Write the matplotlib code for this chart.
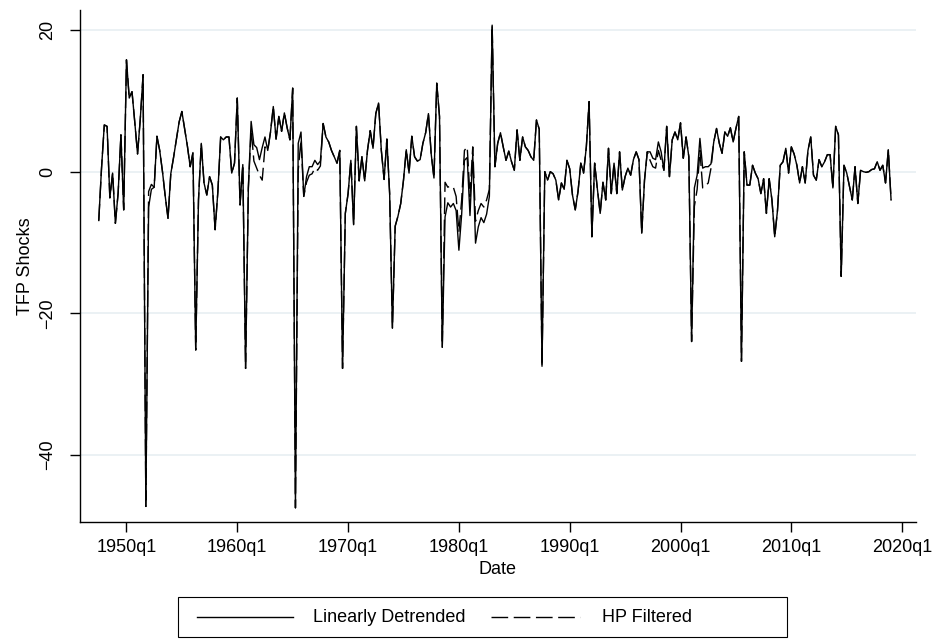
import matplotlib
matplotlib.use('Agg')
import matplotlib.pyplot as plt
from matplotlib.lines import Line2D
from matplotlib.patches import Rectangle
import pandas as pd

start_quarter = '1947Q3'

linearly_detrended = [
    -6.9, 0.5, 6.6, 6.4, -3.7, -0.2, -7.3, -3.0, 5.2, -5.4,
    15.8, 10.4, 11.3, 7.0, 2.5, 7.5, 13.7, -47.3, -5.0, -2.5,
    -2.2, 5.0, 3.0, 0.0, -3.5, -6.6, -0.3, 2.0, 4.5, 7.0,
    8.5, 6.0, 3.6, 0.7, 2.7, -25.2, -4.0, 4.0, -1.6, -3.3,
    -0.7, -1.9, -8.2, -2.8, 4.9, 4.5, 4.9, 4.9, -0.2, 1.2,
    10.4, -4.7, 1.0, -27.8, -2.3, 7.1, 3.8, 3.4, 1.7, 3.4,
    4.9, 3.0, 5.6, 9.2, 4.6, 7.8, 5.7, 8.3, 6.2, 4.5,
    11.8, -47.5, 4.0, 5.6, -3.5, -0.7, 0.7, 0.7, 1.6, 1.0,
    1.5, 6.8, 4.9, 4.2, 3.0, 2.1, 1.2, 3.0, -27.8, -5.9,
    -3.1, 1.6, -7.5, 6.4, -1.3, 2.1, -1.3, 3.0, 5.8, 3.3,
    8.2, 9.7, 3.0, -1.1, 4.6, -3.1, -22.1, -7.7, -6.3, -4.5,
    -1.2, 3.1, -0.2, 5.0, 2.1, 1.5, 1.7, 4.0, 5.5, 8.2,
    2.5, -0.9, 12.5, 7.8, -24.8, -6.4, -4.4, -5.0, -4.5, -5.5,
    -11.1, -6.0, 1.6, 2.0, -6.2, 2.5, -10.1, -7.8, -6.5, -7.2,
    -6.0, -3.5, 20.7, 0.7, 4.0, 5.5, 3.5, 1.6, 2.9, 1.4,
    0.2, 5.9, 1.6, 4.9, 3.5, 3.0, 2.1, 1.6, 7.3, 6.0,
    -27.5, 0.0, -1.2, 0.0, -0.3, -1.2, -4.0, -1.6, -2.5, 1.6,
    0.4, -3.3, -5.4, -2.8, 1.2, -0.2, 3.5, 9.9, -9.2, 1.2,
    -2.5, -5.9, -1.5, -4.0, 3.3, -3.1, 1.2, -3.1, 2.8, -2.6,
    -0.7, 0.5, -0.5, 1.7, 2.8, 1.7, -8.7, -1.2, 2.8, 2.8,
    1.9, 1.7, 4.2, 2.8, 0.2, 6.4, -0.7, 4.5, 5.6, 4.5,
    6.9, 1.9, 4.9, 2.1, -24.0, -2.3, -0.5, 4.7, 0.5, 0.7,
    0.7, 1.1, 4.2, 6.1, 4.0, 2.6, 5.6, 5.0, 6.2, 4.2,
    6.1, 7.8, -26.8, 2.8, -1.9, -1.9, 0.9, -0.2, -1.0, -3.1,
    -1.0, -5.9, -1.0, -4.0, -9.2, -5.5, 0.9, 1.4, 3.3, -0.2,
    3.5, 2.5, 0.9, -1.6, 0.7, -1.6, 3.0, 4.9, -0.5, -1.2,
    1.7, 0.7, 1.4, 2.4, 2.4, -2.3, 6.4, 5.2, -14.8, 0.9,
    -0.2, -2.1, -4.0, 0.7, -4.5, 0.2, 0.0, -0.1, 0.0, 0.3,
    0.4, 1.4, 0.2, 0.9, -1.6, 3.1, -4.0,
]

hp_filtered = [
    -6.9, 0.5, 6.6, 6.4, -3.7, -0.2, -7.3, -3.0, 5.2, -5.4,
    15.8, 10.4, 11.3, 7.0, 2.5, 7.5, 13.7, -47.3, -2.8, -1.8,
    -2.2, 5.0, 3.0, 0.0, -3.5, -6.6, -0.3, 2.0, 4.5, 7.0,
    8.5, 6.0, 3.6, 0.7, 2.7, -25.2, -4.0, 4.0, -1.6, -3.3,
    -0.7, -1.9, -8.2, -2.8, 4.9, 4.5, 4.9, 4.9, -0.2, 1.2,
    10.4, -4.7, 1.0, -27.8, -2.3, 6.0, 1.5, 0.5, -0.5, -1.2,
    3.5, 3.0, 5.6, 9.2, 4.6, 7.8, 5.7, 8.3, 6.2, 4.5,
    11.8, -47.5, 0.2, 4.5, -3.5, -1.5, -0.5, -0.3, 0.5, 0.2,
    0.8, 6.8, 4.9, 4.2, 3.0, 2.1, 1.2, 3.0, -27.8, -5.9,
    -3.1, 1.6, -7.5, 6.4, -1.3, 2.1, -1.3, 3.0, 5.8, 3.3,
    8.2, 9.7, 3.0, -1.1, 4.6, -3.1, -22.1, -7.7, -6.3, -4.5,
    -1.2, 3.1, -0.2, 5.0, 2.1, 1.5, 1.7, 4.0, 5.5, 8.2,
    2.5, -0.9, 12.5, 7.8, -24.8, -1.5, -2.2, -2.0, -2.2, -3.5,
    -8.5, -4.0, 3.0, 3.5, -3.5, 3.5, -7.0, -5.5, -4.5, -5.0,
    -4.0, -2.5, 20.7, 0.7, 4.0, 5.5, 3.5, 1.6, 2.9, 1.4,
    0.2, 5.9, 1.6, 4.9, 3.5, 3.0, 2.1, 1.6, 7.3, 6.0,
    -27.5, 0.0, -1.2, 0.0, -0.3, -1.2, -4.0, -1.6, -2.5, 1.6,
    0.4, -3.3, -5.4, -2.8, 1.2, -0.2, 3.5, 9.9, -9.2, 1.2,
    -2.5, -5.9, -1.5, -4.0, 3.3, -3.1, 1.2, -3.1, 2.8, -2.6,
    -0.7, 0.5, -0.5, 1.7, 2.8, 1.7, -8.7, -1.2, 2.8, 1.6,
    0.7, 0.5, 3.0, 1.6, 0.2, 6.4, -0.7, 4.5, 5.6, 4.5,
    6.9, 1.9, 4.9, 2.1, -24.0, -4.9, -2.5, 3.0, -2.3, -2.0,
    -1.6, 0.5, 4.2, 6.1, 4.0, 2.6, 5.6, 5.0, 6.2, 4.2,
    6.1, 7.8, -26.8, 2.8, -1.9, -1.9, 0.9, -0.2, -1.0, -3.1,
    -1.0, -5.9, -1.0, -4.0, -9.2, -5.5, 0.9, 1.4, 3.3, -0.2,
    3.5, 2.5, 0.9, -1.6, 0.7, -1.6, 3.0, 4.9, -0.5, -1.2,
    1.7, 0.7, 1.4, 2.4, 2.4, -2.3, 6.4, 5.2, -14.8, 0.9,
    -0.2, -2.1, -4.0, 0.7, -4.5, 0.2, 0.0, -0.1, 0.0, 0.3,
    0.4, 1.4, 0.2, 0.9, -1.6, 3.1, -4.0,
]

x_tick_years = [1950, 1960, 1970, 1980, 1990, 2000, 2010, 2020]
x_tick_labels = ['1950q1', '1960q1', '1970q1', '1980q1', '1990q1', '2000q1', '2010q1', '2020q1']
y_ticks = [-40, -20, 0, 20]
y_tick_labels = ['\u221240', '\u221220', '0', '20']

series_labels = ['Linearly Detrended', 'HP Filtered']

quarters = pd.period_range(start_quarter, periods=len(linearly_detrended), freq='Q')
x = quarters.year + (quarters.quarter - 1) / 4.0

plt.rcParams['font.family'] = ['Liberation Sans', 'DejaVu Sans']
plt.rcParams['lines.scale_dashes'] = False

W, H = 939, 643
fig = plt.figure(figsize=(W / 100, H / 100), dpi=100)
left, right, top, bottom = 79.7, 916, 10, 522
ax = fig.add_axes([left / W, 1 - bottom / H, (right - left) / W, (bottom - top) / H])

solid_style = dict(color='black', lw=1.0)
dash_style = dict(color='black', lw=1.0, dashes=(12, 4))

ax.plot(x, linearly_detrended, label=series_labels[0], **solid_style)
ax.plot(x, hp_filtered, label=series_labels[1], **dash_style)

ax.set_ylim(-49.5, 22.84)
ax.set_xlim(1945.78, 2021.25)

ax.set_xticks(x_tick_years)
ax.set_xticklabels(x_tick_labels)
ax.set_yticks(y_ticks)
ax.set_yticklabels(y_tick_labels, rotation=90, va='center')

ax.yaxis.grid(True, color='#E8EFF2', lw=1.2)
ax.set_axisbelow(True)
for s in ['top', 'right']:
    ax.spines[s].set_visible(False)
for s in ['left', 'bottom']:
    ax.spines[s].set_linewidth(1.0)
    ax.spines[s].set_color('black')

ax.tick_params(direction='out', length=7, width=1.0, labelsize=13, colors='black')
ax.tick_params(axis='y', pad=10)
ax.tick_params(axis='x', pad=5)
ax.set_xlabel('Date', fontsize=13, labelpad=4)
ax.set_ylabel('TFP Shocks', fontsize=13, labelpad=4)

# Stata-style legend box below the plot (pixel layout)
def fx(px):
    return px / W

def fy(py):
    return 1 - py / H

fig.add_artist(Rectangle((fx(178), fy(637)), fx(787) - fx(178), fy(597) - fy(637),
                         transform=fig.transFigure, fill=False, edgecolor='black', lw=0.8))
ly = fy(617)
fig.add_artist(Line2D([fx(197), fx(293)], [ly, ly], transform=fig.transFigure, **solid_style))
fig.text(fx(313), ly, series_labels[0], fontsize=13, va='center', ha='left')
fig.add_artist(Line2D([fx(491), fx(580)], [ly, ly], transform=fig.transFigure, **dash_style))
fig.text(fx(602), ly, series_labels[1], fontsize=13, va='center', ha='left')

fig.savefig('out.png', dpi=100)
